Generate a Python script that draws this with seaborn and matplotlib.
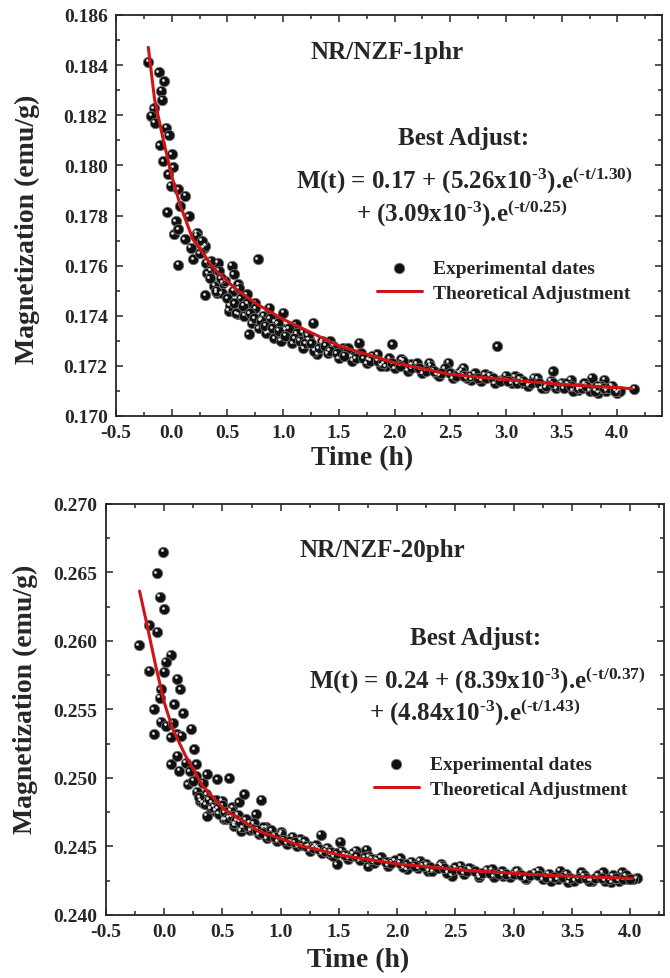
import pandas as pd
import matplotlib
matplotlib.use("Agg")
import matplotlib.pyplot as plt
import matplotlib.transforms as mtransforms
from matplotlib.ticker import MultipleLocator, FormatStrFormatter
import seaborn as sns

# ---- NR/NZF-1phr : experimental points (time h, magnetization emu/g)
t_1phr = [-0.21, -0.115, -0.065, -0.096, -0.085, -0.16, -0.185, -0.154, -0.05, -0.027,
          -0.108, 0.0, -0.077, 0.012, -0.03, -0.008, 0.058, 0.123, -0.038, 0.077,
          0.154, 0.038, 0.019, 0.058, 0.115, 0.223, 0.173, 0.288, 0.058, 0.192,
          0.308, 0.346, 0.415, 0.538, 0.558, 0.30, 0.404, 0.46, 0.596, 0.77,
          0.51, 0.596, 0.69, 0.673, 0.75, 0.877, 1.0, 0.81, 0.923, 0.865,
          1.02, 1.115, 1.173, 1.27, 1.23, 1.346, 1.42, 1.308, 1.54, 1.685,
          1.615, 1.77, 1.846, 1.92, 1.98, 2.06, 2.15, 2.23, 2.31, 2.38,
          2.48, 2.58, 2.615, 2.69, 2.81, 2.92, 2.96, 3.08, 3.15, 3.25,
          3.35, 3.42, 3.50, 3.58, 3.65, 3.77, 3.83, 3.88, 3.96, 4.0, 4.15,
          0.30, 0.32, 0.35, 0.38, 0.42, 0.45, 0.48, 0.52, 0.55, 0.58,
          0.62, 0.65, 0.68, 0.72, 0.75, 0.78, 0.82, 0.85, 0.88, 0.92,
          0.95, 0.98, 1.05, 1.08, 1.12, 1.18, 1.22, 1.28, 1.35, 1.40,
          1.45, 1.50, 1.58, 1.62, 1.70, 1.75, 1.80, 1.88, 1.95, 2.00,
          2.08, 2.12, 2.20, 2.25, 2.32, 2.40, 2.45, 2.52, 2.60, 2.65,
          2.72, 2.78, 2.85, 2.90, 3.00, 3.05, 3.12, 3.20, 3.28, 3.32,
          3.40, 3.45, 3.55, 3.60, 3.70, 3.75, 3.85, 3.90, 3.95, 4.02]
m_1phr = [0.18414, 0.18371, 0.18335, 0.18298, 0.18262, 0.18227, 0.18198, 0.18171, 0.18151, 0.18121,
          0.18081, 0.18045, 0.18016, 0.17992, 0.17965, 0.17918, 0.17905, 0.17878, 0.17812, 0.17838,
          0.17798, 0.17778, 0.17725, 0.17745, 0.17705, 0.17732, 0.17672, 0.17672, 0.17603, 0.17625,
          0.17612, 0.17579, 0.17612, 0.17599, 0.17565, 0.17482, 0.17492, 0.17532, 0.17525, 0.17625,
          0.17419, 0.17406, 0.17326, 0.17486, 0.17452, 0.17432, 0.17412, 0.17386, 0.17379, 0.17332,
          0.17346, 0.17366, 0.17332, 0.17372, 0.17306, 0.17292, 0.17299, 0.17246, 0.17272, 0.17292,
          0.17239, 0.17226, 0.17246, 0.17199, 0.17286, 0.17226, 0.17206, 0.17186, 0.17212, 0.17166,
          0.17212, 0.17172, 0.17192, 0.17145, 0.17166, 0.17279, 0.17145, 0.17158, 0.17132, 0.17152,
          0.17113, 0.17179, 0.17132, 0.17145, 0.17105, 0.17152, 0.17092, 0.17145, 0.17113, 0.17092, 0.17109,
          0.1768, 0.1757, 0.1762, 0.1752, 0.1758, 0.1749, 0.1754, 0.1744, 0.1750, 0.1741,
          0.1747, 0.1740, 0.1745, 0.1737, 0.1743, 0.1735, 0.1740, 0.1733, 0.1739, 0.1731,
          0.1737, 0.1730, 0.1735, 0.1729, 0.1733, 0.1727, 0.1732, 0.1726, 0.1730, 0.1725,
          0.1728, 0.1723, 0.1727, 0.1722, 0.1725, 0.1721, 0.1724, 0.1720, 0.1723, 0.1719,
          0.1722, 0.1718, 0.1721, 0.1717, 0.1720, 0.1716, 0.1719, 0.1715, 0.1718, 0.1715,
          0.1717, 0.1714, 0.1716, 0.1713, 0.1716, 0.1713, 0.1715, 0.1712, 0.1715, 0.1711,
          0.1714, 0.1711, 0.1713, 0.1710, 0.1713, 0.1710, 0.1712, 0.1710, 0.1712, 0.1710]

# points packed in the middle of the band
t_1phr_band = [0.22, 0.25, 0.27, 0.34, 0.40, 0.44, 0.50, 0.56, 0.60, 0.64,
               0.70, 0.74, 0.80, 0.84, 0.90, 0.96, 1.02, 1.10, 1.15, 1.20,
               1.25, 1.32, 1.38, 1.42, 1.48, 1.55, 1.65, 1.72, 1.78, 1.85,
               1.90, 1.98, 2.05, 2.15, 2.22, 2.28, 2.35, 2.42, 2.50, 2.55,
               2.62, 2.68, 2.75, 2.82, 2.88, 2.95, 3.02, 3.10, 3.15, 3.22,
               3.30, 3.36, 3.42, 3.48, 3.52, 3.58, 3.65, 3.68, 3.72, 3.80,
               3.82, 3.88, 3.92, 3.98]
m_1phr_band = [0.1772, 0.1765, 0.1770, 0.1755, 0.1750, 0.1755, 0.1747, 0.1745, 0.1751, 0.1744,
               0.1741, 0.1739, 0.1738, 0.1736, 0.1735, 0.1734, 0.1732, 0.1731, 0.1730, 0.1729,
               0.1729, 0.1727, 0.1728, 0.1726, 0.1725, 0.1724, 0.1723, 0.1723, 0.1722, 0.1722,
               0.1721, 0.1721, 0.1720, 0.1719, 0.1719, 0.1718, 0.1718, 0.1717, 0.1717, 0.1716,
               0.1716, 0.1716, 0.1715, 0.1715, 0.1715, 0.1714, 0.1714, 0.1713, 0.1714, 0.1713,
               0.1713, 0.1712, 0.1713, 0.1712, 0.1711, 0.1712, 0.1711, 0.1711, 0.1712, 0.1710,
               0.1712, 0.1711, 0.1711, 0.1710]

# fitted curve
fit_t_1phr = [-0.21, -0.154, -0.077, 0.0, 0.077, 0.19, 0.385, 0.58, 0.77, 1.0,
              1.5, 2.0, 2.5, 3.0, 3.5, 4.0, 4.13]
fit_m_1phr = [0.18471, 0.18264, 0.18105, 0.17958, 0.1784, 0.17705, 0.17585, 0.17505, 0.17445, 0.17386,
              0.1728, 0.17212, 0.17166, 0.17145, 0.17126, 0.17113, 0.17109]

# ---- NR/NZF-20phr
t_20phr = [-0.219, -0.128, -0.062, -0.007, -0.066, -0.037, 0.0, -0.128, 0.055, 0.011,
           0.0, -0.091, -0.084, -0.029, -0.037, 0.11, 0.139, 0.084, 0.164, -0.029,
           0.018, 0.073, 0.11, 0.23, 0.055, 0.146, 0.256, 0.055, 0.11, 0.183,
           0.274, 0.128, 0.20, 0.274, 0.329, 0.365, 0.457, 0.559, 0.31, 0.365,
           0.402, 0.493, 0.438, 0.584, 0.639, 0.687, 0.833, 0.785, 0.511, 0.603,
           0.658, 0.731, 0.804, 0.877, 0.95, 1.023, 1.005, 1.096, 1.169, 1.242,
           1.344, 1.315, 1.425, 1.509, 1.479, 1.571, 1.644, 1.735, 1.753, 1.826,
           1.918, 2.027, 2.082, 2.192, 2.265, 2.374, 2.466, 2.539, 2.63, 2.703,
           2.813, 2.904, 3.032, 3.105, 3.215, 3.324, 3.397, 3.47, 3.58, 3.671,
           3.763, 3.836, 3.927, 3.982, 4.055,
           0.28, 0.33, 0.36, 0.40, 0.44, 0.47, 0.50, 0.53, 0.57, 0.60,
           0.63, 0.67, 0.70, 0.74, 0.77, 0.81, 0.85, 0.88, 0.92, 0.97,
           1.00, 1.05, 1.10, 1.14, 1.20, 1.25, 1.30, 1.35, 1.40, 1.45,
           1.52, 1.58, 1.62, 1.68, 1.75, 1.80, 1.86, 1.92, 1.98, 2.05,
           2.12, 2.18, 2.25, 2.30, 2.38, 2.43, 2.50, 2.57, 2.62, 2.70,
           2.77, 2.83, 2.90, 2.97, 3.02, 3.10, 3.18, 3.25, 3.30, 3.38,
           3.45, 3.52, 3.60, 3.65, 3.72, 3.78, 3.85, 3.90, 3.96, 4.02]
m_20phr = [0.25969, 0.26115, 0.26066, 0.26652, 0.26494, 0.26324, 0.26232, 0.25782, 0.25899, 0.2585,
           0.25775, 0.25502, 0.2532, 0.25648, 0.25587, 0.25726, 0.25648, 0.25539, 0.25473, 0.2541,
           0.25381, 0.25405, 0.2532, 0.25361, 0.25296, 0.25308, 0.25211, 0.25101, 0.25162, 0.25113,
           0.25101, 0.25053, 0.24955, 0.25016, 0.24967, 0.25028, 0.24992, 0.24999, 0.24834, 0.24724,
           0.24822, 0.24834, 0.24761, 0.24785, 0.24822, 0.24882, 0.24841, 0.24736, 0.247, 0.24651,
           0.24615, 0.24676, 0.24627, 0.24639, 0.24578, 0.24554, 0.24603, 0.2453, 0.24554, 0.24506,
           0.24584, 0.24493, 0.24445, 0.24535, 0.24372, 0.24433, 0.24469, 0.24476, 0.24357, 0.24408,
           0.24384, 0.24413, 0.24335, 0.24396, 0.24323, 0.24372, 0.24287, 0.24359, 0.24335, 0.24275,
           0.24335, 0.24287, 0.24323, 0.24262, 0.24323, 0.2425, 0.24323, 0.24238, 0.24311, 0.2425,
           0.24311, 0.24238, 0.24311, 0.24262, 0.24267,
           0.2490, 0.2482, 0.2488, 0.2478, 0.2484, 0.2474, 0.2480, 0.2470, 0.2476, 0.2467,
           0.2473, 0.2464, 0.2470, 0.2462, 0.2467, 0.2459, 0.2464, 0.2456, 0.2462, 0.2454,
           0.2459, 0.2452, 0.2457, 0.2450, 0.2454, 0.2447, 0.2451, 0.2445, 0.2449, 0.2443,
           0.2447, 0.2441, 0.2445, 0.2440, 0.2443, 0.2438, 0.2442, 0.2436, 0.2440, 0.2435,
           0.2439, 0.2434, 0.2437, 0.2432, 0.2436, 0.2431, 0.2435, 0.2430, 0.2434, 0.2429,
           0.2433, 0.2428, 0.2432, 0.2428, 0.2432, 0.2427, 0.2431, 0.2426, 0.2430, 0.2426,
           0.2430, 0.2425, 0.2429, 0.2425, 0.2429, 0.2425, 0.2429, 0.2425, 0.2429, 0.2426]

t_20phr_band = [0.22, 0.25, 0.30, 0.35, 0.38, 0.42, 0.46, 0.52, 0.55, 0.58,
                0.62, 0.65, 0.72, 0.76, 0.80, 0.84, 0.90, 0.95, 1.02, 1.08,
                1.12, 1.18, 1.22, 1.28, 1.33, 1.38, 1.43, 1.48, 1.55, 1.60,
                1.65, 1.72, 1.78, 1.83, 1.90, 1.95, 2.02, 2.08, 2.15, 2.22,
                2.28, 2.35, 2.40, 2.47, 2.55, 2.60, 2.67, 2.73, 2.80, 2.87,
                2.93, 3.00, 3.06, 3.14, 3.21, 3.28, 3.35, 3.42, 3.48, 3.56,
                3.62, 3.70, 3.76, 3.82, 3.88, 3.94, 4.00]
m_20phr_band = [0.2505, 0.2498, 0.2486, 0.2481, 0.2484, 0.2479, 0.2478, 0.2475, 0.2471, 0.2472,
                0.2469, 0.2468, 0.2465, 0.2463, 0.2462, 0.2460, 0.2458, 0.2457, 0.2455, 0.2454,
                0.2453, 0.2451, 0.2450, 0.2449, 0.2448, 0.2447, 0.2446, 0.2445, 0.2444, 0.2443,
                0.2443, 0.2442, 0.2441, 0.2440, 0.2439, 0.2438, 0.2438, 0.2437, 0.2436, 0.2436,
                0.2435, 0.2434, 0.2434, 0.2433, 0.2433, 0.2432, 0.2432, 0.2431, 0.2431, 0.2430,
                0.2430, 0.2430, 0.2429, 0.2429, 0.2429, 0.2428, 0.2428, 0.2428, 0.2427, 0.2427,
                0.2427, 0.2427, 0.2427, 0.2426, 0.2427, 0.2426, 0.2426]

fit_t_20phr = [-0.212, -0.146, -0.073, 0.0, 0.073, 0.183, 0.329, 0.511, 0.804, 1.169,
               1.534, 2.009, 2.63, 3.361, 4.018]
fit_m_20phr = [0.26365, 0.2611, 0.25818, 0.25551, 0.25357, 0.25162, 0.24943, 0.24773, 0.24615, 0.24506,
               0.24433, 0.24372, 0.24323, 0.24287, 0.24267]

sns.set_style("ticks")
plt.rcParams['font.family'] = ['Liberation Serif', 'DejaVu Serif']
plt.rcParams['font.weight'] = 'bold'
plt.rcParams['axes.labelweight'] = 'bold'
plt.rcParams['mathtext.fontset'] = 'custom'
plt.rcParams['mathtext.rm'] = 'Liberation Serif:bold'
plt.rcParams['mathtext.it'] = 'Liberation Serif:bold'
plt.rcParams['mathtext.bf'] = 'Liberation Serif:bold'

W, H = 670, 979
fig = plt.figure(figsize=(W / 100, H / 100), dpi=100)


def px_axes(l, t, r, b):
    return fig.add_axes([l / W, 1 - b / H, (r - l) / W, (b - t) / H])


def fx(x):
    return x / W


def fy(y):
    return 1 - y / H


panels = [
    dict(ax=px_axes(116, 16, 662, 417), t=t_1phr + t_1phr_band, m=m_1phr + m_1phr_band,
         ft=fit_t_1phr, fm=fit_m_1phr,
         ylim=(0.170, 0.186), ymaj=0.002, ymin=0.001, xlim=(-0.5, 4.4),
         title="NR/NZF-1phr", title_xy=(387, 53),
         best_xy=(464, 138),
         l1=r"M(t) = 0.17 + (5.26x10$^{\text{-3}}$).e$^{\text{(-t/1.30)}}$", l1_xy=(464, 180),
         l2=r"+ (3.09x10$^{\text{-3}}$).e$^{\text{(-t/0.25)}}$", l2_xy=(462, 213),
         leg_xy=(377, 260), xlab=(362, 459), ylab=(27, 229)),
    dict(ax=px_axes(106, 505, 664, 916), t=t_20phr + t_20phr_band, m=m_20phr + m_20phr_band,
         ft=fit_t_20phr, fm=fit_m_20phr,
         ylim=(0.240, 0.270), ymaj=0.005, ymin=0.0025, xlim=(-0.5, 4.29),
         title="NR/NZF-20phr", title_xy=(382, 550),
         best_xy=(476, 638),
         l1=r"M(t) = 0.24 + (8.39x10$^{\text{-3}}$).e$^{\text{(-t/0.37)}}$", l1_xy=(477, 680),
         l2=r"+ (4.84x10$^{\text{-3}}$).e$^{\text{(-t/1.43)}}$", l2_xy=(475, 712),
         leg_xy=(374, 756), xlab=(358, 961), ylab=(25, 699)),
]

for p in panels:
    ax = p['ax']
    df = pd.DataFrame({'Time': p['t'], 'M': p['m']})
    fit = pd.DataFrame({'Time': p['ft'], 'M': p['fm']})

    sns.scatterplot(data=df, x='Time', y='M', ax=ax, s=56, color='#111111',
                    edgecolor='#707070', linewidth=0.6, zorder=3,
                    label='Experimental dates')
    # little highlight to give the sphere look
    hl = mtransforms.offset_copy(ax.transData, fig=fig, x=-1.5, y=1.5, units='dots')
    ax.scatter(df['Time'], df['M'], s=4, color='#e8e8e8', linewidths=0,
               transform=hl, zorder=4)
    sns.lineplot(data=fit, x='Time', y='M', ax=ax, color='#d01414', linewidth=2.2,
                 zorder=5, label='Theoretical Adjustment', sort=True)

    ax.set_xlim(*p['xlim'])
    ax.set_ylim(*p['ylim'])
    ax.xaxis.set_major_locator(MultipleLocator(0.5))
    ax.xaxis.set_minor_locator(MultipleLocator(0.25))
    ax.yaxis.set_major_locator(MultipleLocator(p['ymaj']))
    ax.yaxis.set_minor_locator(MultipleLocator(p['ymin']))
    ax.xaxis.set_major_formatter(FormatStrFormatter('%.1f'))
    ax.yaxis.set_major_formatter(FormatStrFormatter('%.3f'))
    ax.tick_params(which='both', direction='in', top=True, right=True,
                   labelsize=14, width=1.1, pad=6)
    ax.tick_params(which='major', length=5)
    ax.tick_params(which='minor', length=3)
    for lab in ax.get_xticklabels() + ax.get_yticklabels():
        lab.set_fontweight('bold')
    for sp in ax.spines.values():
        sp.set_linewidth(1.3)
        sp.set_visible(True)
    ax.set_xlabel("Time (h)", fontsize=20, fontweight='bold')
    ax.set_ylabel("Magnetization (emu/g)", fontsize=20, fontweight='bold')
    ax.xaxis.set_label_coords(fx(p['xlab'][0]), fy(p['xlab'][1]), transform=fig.transFigure)
    ax.xaxis.label.set_va('center')
    ax.yaxis.set_label_coords(fx(p['ylab'][0]), fy(p['ylab'][1]), transform=fig.transFigure)
    ax.yaxis.label.set_va('center')

    leg = ax.legend(loc='upper left', bbox_to_anchor=(fx(p['leg_xy'][0]), fy(p['leg_xy'][1])),
                    bbox_transform=fig.transFigure, frameon=False, fontsize=14,
                    handlelength=2.3, handletextpad=0.6, borderpad=0, borderaxespad=0,
                    labelspacing=0.4, markerscale=1.0)
    for txt in leg.get_texts():
        txt.set_fontweight('bold')

    fig.text(fx(p['title_xy'][0]), fy(p['title_xy'][1]), p['title'], fontsize=18,
             fontweight='bold', ha='center', va='center')
    fig.text(fx(p['best_xy'][0]), fy(p['best_xy'][1]), "Best Adjust:", fontsize=18,
             fontweight='bold', ha='center', va='center')
    fig.text(fx(p['l1_xy'][0]), fy(p['l1_xy'][1]), p['l1'], fontsize=18,
             fontweight='bold', ha='center', va='center')
    fig.text(fx(p['l2_xy'][0]), fy(p['l2_xy'][1]), p['l2'], fontsize=18,
             fontweight='bold', ha='center', va='center')

fig.savefig("out.png", dpi=100)
